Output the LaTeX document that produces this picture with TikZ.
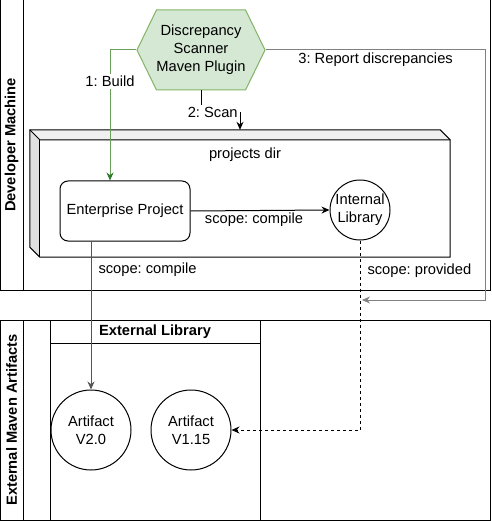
\documentclass[tikz,border=0pt]{standalone}
\usepackage{fontspec}
\setmainfont{Liberation Sans}
\usetikzlibrary{shapes,arrows.meta,positioning,calc}
\definecolor{plugFill}{HTML}{D5E8D4}
\definecolor{plugLine}{HTML}{82B366}
\definecolor{buildLine}{HTML}{6A9E5A}
\definecolor{buildTip}{HTML}{2D7A2D}
\definecolor{reportLine}{HTML}{808080}
\definecolor{depLine}{HTML}{555555}
\definecolor{cubeTop}{HTML}{F0F0F0}
\definecolor{cubeSide}{HTML}{E0E0E0}
\frenchspacing
\tikzset{
    txt/.style={font=\fontsize{14.7}{18}\selectfont, align=center},
    lane/.style={draw, line width=1pt},
    laneTitle/.style={txt, font=\fontsize{14.7}{18}\selectfont\bfseries}
}

\begin{document}
\begin{tikzpicture}[
    x=1pt, y=-1pt,
    plugin/.style={signal, signal to=east and west, signal pointer angle=128,
        draw=plugLine, fill=plugFill, line width=1pt, minimum width=120, minimum height=80,
        inner sep=0pt, txt},
    proj/.style={draw, line width=1pt, rounded corners=8pt, minimum width=130, minimum height=60, txt},
    circ/.style={draw, line width=1pt, circle, inner sep=0pt, txt},
    arr/.style={-{Stealth[length=8pt, width=7pt]}, line width=1pt},
    lbl/.style={txt, inner sep=2pt}
]
\useasboundingbox (0,0) rectangle (491,521);

% pools
\draw[lane] (0,0) rectangle (490,290);
\draw[lane] (23,0) -- (23,290);
\node[laneTitle, rotate=90] (devTitle) at (11.5,145) {Developer Machine};

\draw[lane] (0,320) rectangle (490,520);
\draw[lane] (23,320) -- (23,520);
\node[laneTitle, rotate=90] (extTitle) at (11.5,420) {External Maven Artifacts};
\draw[lane] (50,320) rectangle (260,520);
\draw[lane] (50,343) -- (260,343);
\node[laneTitle] (extLib) at (155,331.5) {External Library};

% projects dir cube
\node[minimum width=420, minimum height=127, inner sep=0pt] (projdir) at (240,193.5) {};
\fill[cubeTop] (projdir.north west) -- ([xshift=-10]projdir.north east)
    -- ([yshift=-10]projdir.north east) -- ([xshift=10,yshift=-10]projdir.north west) -- cycle;
\fill[cubeSide] (projdir.north west) -- ([xshift=10,yshift=-10]projdir.north west)
    -- ([xshift=10]projdir.south west) -- ([yshift=10]projdir.south west) -- cycle;
\draw[line width=1pt] (projdir.north west) -- ([xshift=-10]projdir.north east)
    -- ([yshift=-10]projdir.north east) -- (projdir.south east)
    -- ([xshift=10]projdir.south west) -- ([yshift=10]projdir.south west) -- cycle;
\draw[line width=1pt] (projdir.north west) -- ([xshift=10,yshift=-10]projdir.north west)
    -- ([yshift=-10]projdir.north east);
\draw[line width=1pt] ([xshift=10,yshift=-10]projdir.north west) -- ([xshift=10]projdir.south west);
\node[txt] (projLbl) at (245,155) {projects dir};

% nodes
\node[plugin] (plugin) at (201,50) {Discrepancy\\Scanner\\Maven Plugin};
\node[proj] (ent) at (125,211) {Enterprise Project};
\node[circ, minimum size=60] (intlib) at (360,210) {Internal\\Library};
\node[circ, minimum size=80] (v20) at (91,430) {Artifact\\V2.0};
\node[circ, minimum size=80] (v115) at (191,430) {Artifact\\V1.15};
\coordinate (repEnd) at (362,300);

% connectors
\draw[arr, draw=buildLine, -{Stealth[length=8pt, width=7pt, color=buildTip]}]
    (plugin.west) -| ([xshift=-15]ent.north)
    node[pos=0.62, lbl, fill=white] {1: Build};
\draw[arr] (plugin.south) -- ++(0,22) -| (projdir.north)
    node[pos=0.15, lbl, fill=white] {2: Scan};
\draw[arr, draw=reportLine] (plugin.east) -- ++(220,0)
    node[midway, below, lbl] {3: Report discrepancies} |- (repEnd);
\draw[arr] (ent.east) -- (intlib.west)
    node[midway, below, lbl, xshift=-6] {scope: compile};
\draw[arr, draw=depLine] (ent.south -| v20.north) -- (v20.north)
    node[pos=0.19, right=5pt, lbl] {scope: compile};
\draw[arr, dashed] (intlib.south) |- (v115.east)
    node[pos=0.08, right=5pt, lbl] {scope: provided};
\end{tikzpicture}
\end{document}
